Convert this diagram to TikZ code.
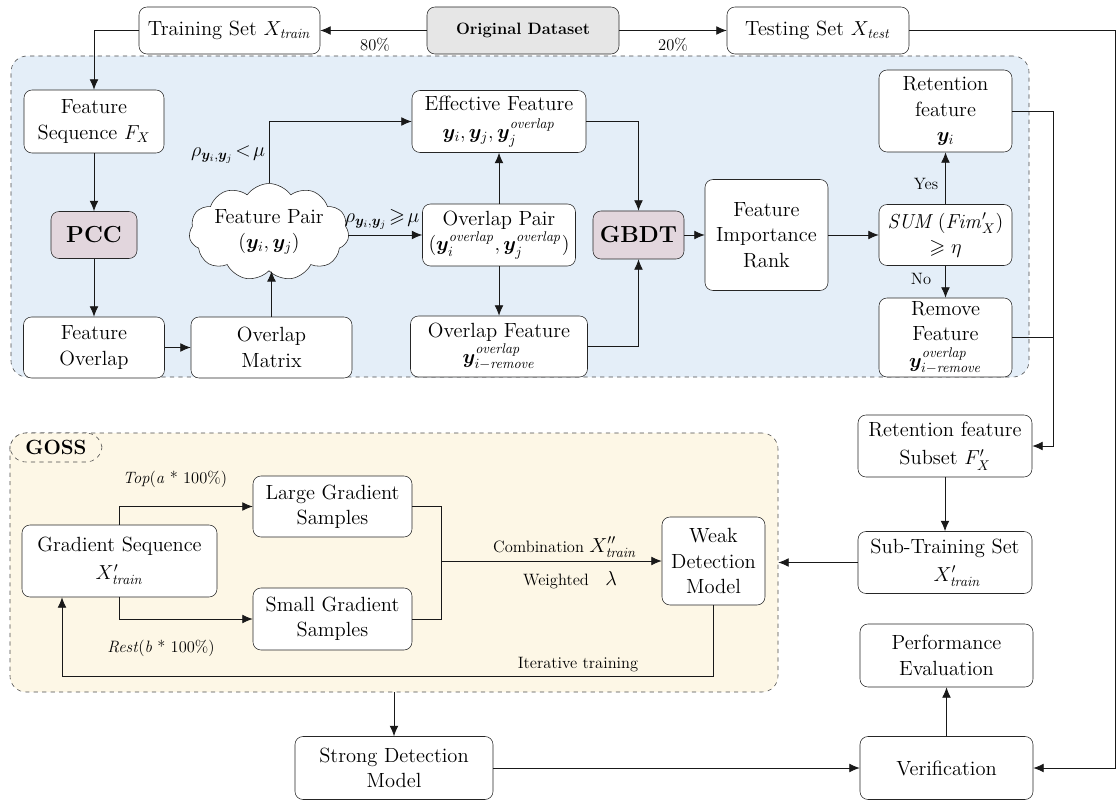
\documentclass[tikz,border=0pt]{standalone}
\usepackage{amsmath,amssymb,bm}
\usetikzlibrary{arrows.meta,shapes.symbols}

\definecolor{selbg}{RGB}{228,238,248}
\definecolor{gossbg}{RGB}{253,247,230}
\definecolor{keyfill}{RGB}{226,214,221}
\definecolor{origfill}{RGB}{230,230,230}

\begin{document}
\begin{tikzpicture}[x=0.025cm,y=-0.025cm,font=\fontsize{14.6}{18}\selectfont,
  box/.style={draw=black!85,fill=white,rounded corners=0.2cm,align=center,inner sep=1pt},
  sz/.style 2 args={minimum width=#1*0.025cm,minimum height=#2*0.025cm},
  key/.style={box,fill=keyfill,font=\fontsize{16.5}{19}\selectfont\bfseries},
  region/.style={draw=black!70,dashed,rounded corners=0.4cm,inner sep=0pt},
  lbl/.style={font=\fontsize{11.7}{14}\selectfont,inner sep=0pt},
  wire/.style={draw=black!90,line width=0.6pt},
  arr/.style={wire,-{Latex[length=2.6mm,width=2.2mm]}}]
\useasboundingbox (0,0) rectangle (1118,800);

% backgrounds
\node[region,fill=selbg,sz={1018}{321}] (fsel) at(520,216.5) {};
\node[region,fill=gossbg,sz={768}{259}] (goss) at(394,562.5) {};
\node[region,fill=gossbg,sz={92}{29},font=\fontsize{14.6}{18}\selectfont\bfseries] (gosstag) at(56,447.5) {GOSS};

% data split
\node[box,sz={181}{47}] (train) at(229.5,30.5) {Training Set $X_{\mathit{train}}$};
\node[box,fill=origfill,sz={192}{47},font=\fontsize{11.7}{14}\selectfont\bfseries] (orig) at(523,30.5) {Original Dataset};
\node[box,sz={182}{47}] (test) at(818,30.5) {Testing Set $X_{\mathit{test}}$};
\node[lbl] (p80) at(375,45) {80\%};
\node[lbl] (p20) at(673,45) {20\%};

% feature selection
\node[box,sz={140}{63}] (fseq) at(94,121.5) {Feature\\Sequence $F_X$};
\node[key,sz={86}{47}] (pcc) at(94,235) {PCC};
\node[box,sz={141}{61}] (fovl) at(94,347.5) {Feature\\Overlap};
\node[box,sz={161}{61}] (omat) at(271.5,347.5) {Overlap\\Matrix};
\node[draw=black!85,fill=white,shape=cloud,cloud puffs=11,cloud puff arc=110,aspect=2,
  align=center,inner sep=0pt,sz={152}{72}] (fpair) at(269,232) {Feature Pair\\$(\bm{y}_i,\bm{y}_j)$};
\node[box,sz={174}{62}] (eff) at(499,121.5) {Effective Feature\\[2pt]$\bm{y}_i,\bm{y}_j,\bm{y}_j^{\mathit{overlap}}$};
\node[box,sz={153}{62}] (opair) at(499,235) {Overlap Pair\\$(\bm{y}_i^{\mathit{overlap}},\bm{y}_j^{\mathit{overlap}})$};
\node[box,sz={177}{61}] (ofeat) at(499,346.5) {Overlap Feature\\$\bm{y}_{i-\mathit{remove}}^{\mathit{overlap}}$};
\node[key,sz={91}{48}] (gbdt) at(638.5,235) {GBDT};
\node[box,sz={123}{111}] (fimp) at(766.5,235) {Feature\\Importance\\Rank};
\node[box,sz={133}{61}] (sumb) at(945.5,235) {$\mathit{SUM}\,(\mathit{Fim}'_X)$\\$\geqslant\eta$};
\node[box,sz={133}{82}] (ret) at(945.5,111) {Retention\\feature\\$\bm{y}_i$};
\node[box,sz={133}{79}] (rem) at(945.5,337.5) {Remove\\Feature\\[1pt]$\bm{y}_{i-\mathit{remove}}^{\mathit{overlap}}$};
\node[lbl,font=\fontsize{14.6}{18}\selectfont] (lt) at(228,155) {$\rho_{\bm{y}_i,\bm{y}_j}\!<\!\mu$};
\node[lbl,font=\fontsize{14.6}{18}\selectfont] (ge) at(382,219) {$\rho_{\bm{y}_i,\bm{y}_j}\!\geqslant\!\mu$};
\node[lbl] (yes) at(926,184) {Yes};
\node[lbl] (no) at(921,279) {No};

% subset and training
\node[box,sz={174}{62}] (subset) at(945,446) {Retention feature\\[2pt]Subset $F'_X$};
\node[box,sz={174}{62}] (subtr) at(945,562.5) {Sub-Training Set\\[2pt]\hspace*{1.2em}$X'_{\mathit{train}}$};

% GOSS
\node[box,sz={195}{72}] (gseq) at(119.5,561) {Gradient Sequence\\[2pt]$X'_{\mathit{train}}$};
\node[box,sz={159}{61}] (large) at(332.5,506.5) {Large Gradient\\Samples};
\node[box,sz={159}{62}] (small) at(332.5,619) {Small Gradient\\Samples};
\node[box,sz={103}{88}] (weak) at(713.5,561) {Weak\\Detection\\Model};
\node[lbl] (top) at(175,479) {\textit{Top}(\textit{a} * 100\%)};
\node[lbl] (rest) at(161,648) {\textit{Rest}(\textit{b} * 100\%)};
\node[lbl] (comb) at(565,547) {Combination {\fontsize{14.6}{18}\selectfont$X''_{\mathit{train}}$}};
\node[lbl] (wgt) at(570,580) {Weighted\quad {\fontsize{14.6}{18}\selectfont$\lambda$}};
\node[lbl] (iter) at(578,665) {Iterative training};

% evaluation
\node[box,sz={173}{63}] (perf) at(946.5,655.5) {Performance\\Evaluation};
\node[box,sz={198}{63}] (strong) at(394,768) {Strong Detection\\Model};
\node[box,sz={173}{63}] (verif) at(946.5,768) {Verification};

\coordinate (bus) at(1053,0);
\coordinate (rim) at(1115,0);
\coordinate (mix) at(441,561);
\coordinate (back) at(62,676);

\draw[arr](orig.west)--(train.east);
\draw[arr](orig.east)--(test.west);
\draw[arr](train.west)-|(fseq.north);
\draw[arr](fseq.south)--(pcc.north);
\draw[arr](pcc.south)--(fovl.north);
\draw[arr](fovl.east)--(omat.west);
\draw[arr](omat.north)--(omat.north|-fpair.south);
\draw[arr](fpair.north)|-(eff.west);
\draw[arr](fpair.east|-opair.west)--(opair.west);
\draw[arr](opair.north)--(eff.south);
\draw[arr](opair.south)--(ofeat.north);
\draw[arr](eff.east)-|(gbdt.north);
\draw[arr](ofeat.east)-|(gbdt.south);
\draw[arr](gbdt.east)--(fimp.west);
\draw[arr](fimp.east)--(sumb.west);
\draw[arr](sumb.north)--(ret.south);
\draw[arr](sumb.south)--(rem.north);
\draw[arr](ret.east)--(ret.east-|bus)|-(subset.east);
\draw[wire](rem.east)--(rem.east-|bus);
\draw[arr](subset.south)--(subtr.north);
\draw[arr](subtr.west)--(goss.east);

\draw[arr](gseq.north)|-(large.west);
\draw[arr](gseq.south)|-(small.west);
\draw[wire](large.east)-|(mix);
\draw[wire](small.east)-|(mix);
\draw[arr](mix)--(weak.west);
\draw[arr](weak.south)|-(back)--(back|-gseq.south);

\draw[arr](goss.south)--(strong.north);
\draw[arr](strong.east)--(verif.west);
\draw[arr](verif.north)--(perf.south);
\draw[arr](test.east)--(test.east-|rim)|-(verif.east);

\end{tikzpicture}
\end{document}
